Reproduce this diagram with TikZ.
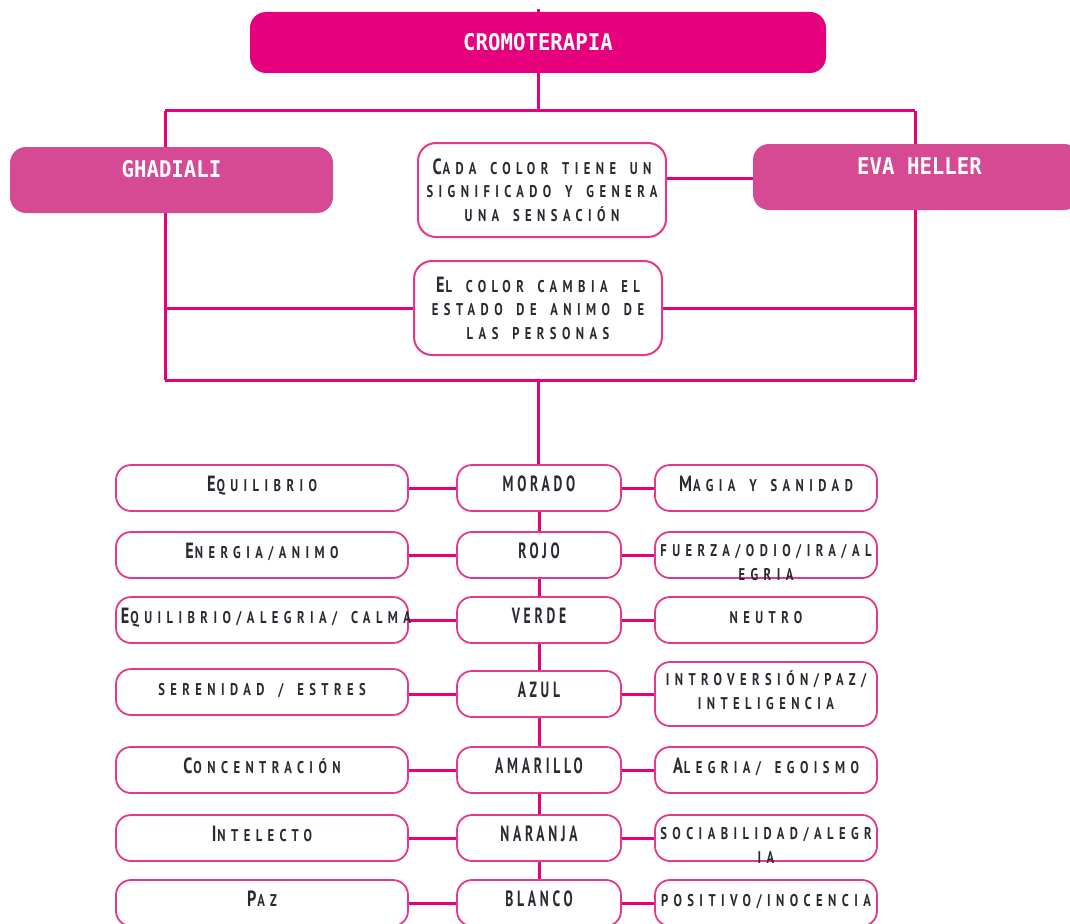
\documentclass[tikz,border=0pt]{standalone}
\usepackage{fontspec}
\usetikzlibrary{backgrounds}
\setmainfont{PT Sans}
\newfontfamily\scfont[LetterSpace=32,WordSpace=1.6,FakeStretch=0.74]{PT Sans}
\newfontfamily\midfont[LetterSpace=17,FakeStretch=0.62]{PT Sans}
\newfontfamily\headfont[FakeStretch=0.9]{DejaVu Sans Mono}
% enlarged initial capital for the small-caps lettering
\newcommand\Bg[1]{{\fontsize{22}{22}\selectfont #1}\kern1pt}

\definecolor{mag}{HTML}{E6007E}
\definecolor{rose}{HTML}{D64A93}
\definecolor{edge}{HTML}{E5388A}
\definecolor{ink}{HTML}{2A2A33}

\tikzset{
  link/.style={draw=mag, line width=3pt},
  headbox/.style={fill=mag, rounded corners=16pt, inner sep=0pt},
  authbox/.style={fill=rose, rounded corners=16pt, inner sep=0pt},
  headtxt/.style={text=white, inner sep=0pt, font=\headfont\bfseries\fontsize{23}{26}\selectfont},
  infobox/.style={draw=edge, line width=2pt, fill=white, rounded corners=18pt, inner sep=0pt,
    minimum width=248pt, minimum height=94pt, text=ink, align=center,
    font=\scfont\bfseries\fontsize{17}{23.5}\selectfont},
  colbox/.style={draw=edge, line width=1.8pt, fill=white, rounded corners=15pt,
    minimum height=46pt, inner sep=0pt},
  midbox/.style={colbox, minimum width=164pt},
  leftbox/.style={colbox, minimum width=292pt},
  rightbox/.style={colbox, minimum width=222pt},
  midtxt/.style={anchor=base, inner sep=0pt, text=ink, font=\midfont\bfseries\fontsize{22}{24}\selectfont},
  sctxt/.style={anchor=base, inner sep=0pt, text=ink, align=center, font=\scfont\bfseries\fontsize{17}{23.5}\selectfont},
}

\begin{document}
\begin{tikzpicture}[x=1pt,y=-1pt]
\useasboundingbox (0,0) rectangle (1070,923);
\clip (0,0) rectangle (1070,923);

% ---- top part ----
\node[headbox, minimum width=576pt, minimum height=61pt] (cromo) at (538,42.5) {};
\node[headtxt] (cromot) at (cromo.center) {CROMOTERAPIA};

\node[authbox, minimum width=323pt, minimum height=66pt] (ghad) at (171.5,180) {};
\node[headtxt, anchor=base] (ghadt) at (171.5,177) {GHADIALI};

\node[authbox, minimum width=327pt, minimum height=66pt] (eva) at (916.5,177) {};
\node[headtxt, anchor=base] (evat) at (919.5,174) {EVA HELLER};

\node[infobox] (cada) at (542,190)
  {\Bg{C}ADA COLOR TIENE UN\\SIGNIFICADO Y GENERA\\UNA SENSACIÓN};
\node[infobox] (elc) at (538,308)
  {\Bg{E}L COLOR CAMBIA EL\\ESTADO DE ANIMO DE\\LAS PERSONAS};

% frame joints
\coordinate (tick) at (538,9);
\coordinate (tj) at (538,111);
\coordinate (tl) at (165,111);
\coordinate (tr) at (915,111);
\coordinate (bl) at (165,380);
\coordinate (br) at (915,380);
\coordinate (bj) at (538,380);

% ---- colour column ----
\node[midbox] (m1) at (539,488) {};
\node[midbox] (m2) at (539,555) {};
\node[midbox] (m3) at (539,620) {};
\node[midbox] (m4) at (539,694) {};
\node[midbox] (m5) at (539,770) {};
\node[midbox] (m6) at (539,838) {};
\node[midbox] (m7) at (539,903) {};

\node[midtxt] (m1t) at ([yshift=-3pt]m1.center) {MORADO};
\node[midtxt] (m2t) at ([yshift=-3pt]m2.center) {ROJO};
\node[midtxt] (m3t) at ([yshift=-3pt]m3.center) {VERDE};
\node[midtxt] (m4t) at ([yshift=-3pt]m4.center) {AZUL};
\node[midtxt] (m5t) at ([yshift=-3pt]m5.center) {AMARILLO};
\node[midtxt] (m6t) at ([yshift=-3pt]m6.center) {NARANJA};
\node[midtxt] (m7t) at ([yshift=-3pt]m7.center) {BLANCO};

% Ghadiali meanings
\node[leftbox] (l1) at (262,488) {};
\node[leftbox] (l2) at (262,555) {};
\node[leftbox] (l3) at (262,620) {};
\node[leftbox] (l4) at (262,692) {};
\node[leftbox] (l5) at (262,770) {};
\node[leftbox] (l6) at (262,838) {};
\node[leftbox] (l7) at (262,903) {};

\node[sctxt] (l1t) at ([yshift=-3pt]l1.center) {\Bg{E}QUILIBRIO};
\node[sctxt] (l2t) at ([yshift=-3pt]l2.center) {\Bg{E}NERGIA/ANIMO};
\node[sctxt] (l3t) at ([xshift=4pt,yshift=-3pt]l3.center) {\Bg{E}QUILIBRIO/ALEGRIA/ CALMA};
\node[sctxt] (l4t) at ([yshift=-3pt]l4.center) {SERENIDAD / ESTRES};
\node[sctxt] (l5t) at ([yshift=-3pt]l5.center) {\Bg{C}ONCENTRACIÓN};
\node[sctxt] (l6t) at ([yshift=-3pt]l6.center) {\Bg{I}NTELECTO};
\node[sctxt] (l7t) at ([yshift=-3pt]l7.center) {\Bg{P}AZ};

% Eva Heller meanings
\node[rightbox] (r1) at (766,488) {};
\node[rightbox] (r2) at (766,555) {};
\node[rightbox] (r3) at (766,620) {};
\node[rightbox, minimum height=64pt] (r4) at (766,694) {};
\node[rightbox] (r5) at (766,770) {};
\node[rightbox] (r6) at (766,838) {};
\node[rightbox] (r7) at (766,903) {};

% two-line labels sit on the baseline of their last line
\node[sctxt] (r1t) at ([yshift=-3pt]r1.center) {\Bg{M}AGIA Y SANIDAD};
\node[sctxt] (r2t) at ([yshift=-25pt]r2.center) {FUERZA/ODIO/IRA/AL\\EGRIA};
\node[sctxt] (r3t) at ([yshift=-3pt]r3.center) {NEUTRO};
\node[sctxt] (r4t) at ([yshift=-15pt]r4.center) {INTROVERSIÓN/PAZ/\\INTELIGENCIA};
\node[sctxt] (r5t) at ([yshift=-3pt]r5.center) {\Bg{A}LEGRIA/ EGOISMO};
\node[sctxt] (r6t) at ([yshift=-25pt]r6.center) {SOCIABILIDAD/ALEGR\\IA};
\node[sctxt] (r7t) at ([yshift=-3pt]r7.center) {POSITIVO/INOCENCIA};

% ---- connectors ----
\begin{scope}[on background layer]
  \draw[link] (tick) -- (tj);
  \draw[link] (tl) -- (tr);
  \draw[link] (tl) -- (bl);
  \draw[link] (tr) -- (br);
  \draw[link] (bl) -- (br);
  \draw[link] ([yshift=12pt]cada.east) -- ([yshift=12pt]cada.east -| eva.west);
  \draw[link] (elc.west -| bl) -- (elc.west);
  \draw[link] (elc.east) -- (elc.east -| br);
  \draw[link] (bj) -- (m1.north -| bj);
  \draw[link] (m1) -- (m2);
  \draw[link] (m2) -- (m3);
  \draw[link] (m3) -- (m4);
  \draw[link] (m4) -- (m5);
  \draw[link] (m5) -- (m6);
  \draw[link] (m6) -- (m7);
  \foreach \i in {1,...,7} {
    \draw[link] (l\i.east |- m\i) -- (m\i.west);
    \draw[link] (m\i.east) -- (r\i.west |- m\i);
  }
\end{scope}
\end{tikzpicture}
\end{document}
